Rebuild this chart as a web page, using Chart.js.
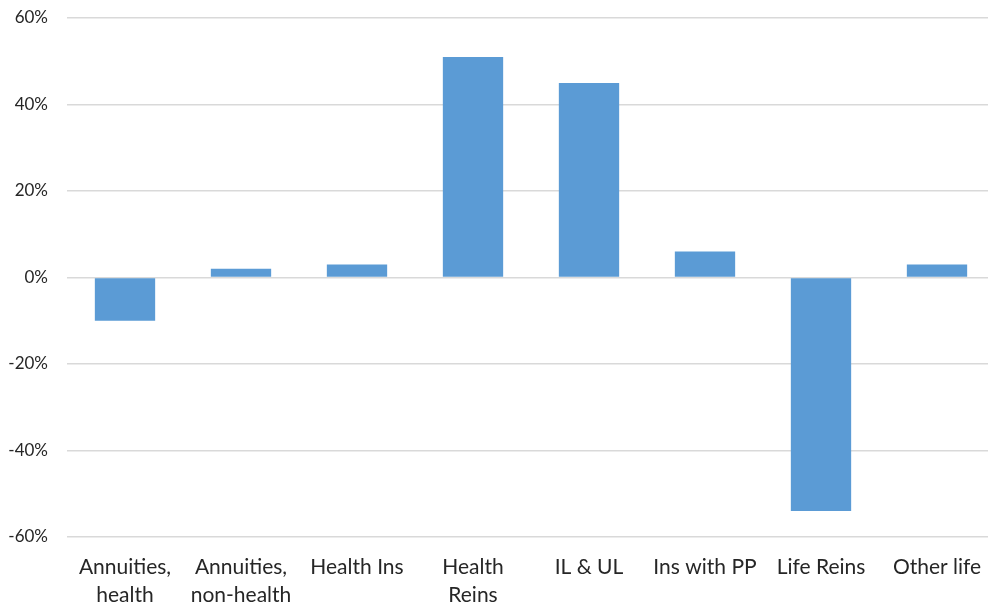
<!DOCTYPE html>
<html>
<head>
<meta charset="utf-8">
<script src="https://cdn.jsdelivr.net/npm/chart.js@4"></script>
<style>
  body { margin: 0; background: #fff; overflow: hidden; }
  #wrap { width: 988px; height: 604px; overflow: hidden; }
</style>
</head>
<body>
<div id="wrap"><canvas id="mycanvas" width="995" height="604"></canvas></div>
<script>
// categories and values (percent)
var categories = [
	['Annuities,', 'health'],
	['Annuities,', 'non-health'],
	'Health Ins',
	['Health', 'Reins'],
	'IL & UL',
	'Ins with PP',
	'Life Reins',
	'Other life'
];
var values = [-10, 2, 3, 51, 45, 6, -54, 3];
var tickValues = [-60, -40, -20, 0, 20, 40, 60];

var chartdata = {
	labels: categories,
	datasets: [
		{
			label: 'Change',
			backgroundColor: '#5B9BD5',
			borderWidth: 0,
			data: values,
			categoryPercentage: 1.0,
			barPercentage: 0.52
		}
	]
};

var ctx = document.getElementById('mycanvas');

var barGraph = new Chart(ctx, {
	type: 'bar',
	data: chartdata,
	options: {
		responsive: false,
		animation: false,
		layout: { padding: { top: 18, right: 0, left: 0, bottom: 0 } },
		plugins: {
			legend: { display: false },
			tooltip: { enabled: false }
		},
		scales: {
			x: {
				afterFit: function(axis) { axis.height = 67; },
				grid: { display: false },
				border: { display: false },
				ticks: {
					color: '#262626',
					font: { family: 'Lato, "Open Sans", sans-serif', size: 21, lineHeight: 1.35 },
					maxRotation: 0,
					autoSkip: false,
					padding: 8
				}
			},
			y: {
				min: tickValues[0],
				max: tickValues[tickValues.length - 1],
				afterBuildTicks: function(axis) {
					axis.ticks = tickValues.map(function(v) { return { value: v }; });
				},
				afterFit: function(axis) {
					axis.width = 67;
					axis.paddingTop = 0;
					axis.paddingBottom = 0;
				},
				grid: { color: '#d9d9d9', lineWidth: 1.5, drawTicks: false },
				border: { display: false },
				ticks: {
					color: '#262626',
					font: { family: 'Lato, "Open Sans", sans-serif', size: 17 },
					padding: 19,
					callback: function(v) { return v + '%'; }
				}
			}
		}
	}
});
</script>
</body>
</html>
